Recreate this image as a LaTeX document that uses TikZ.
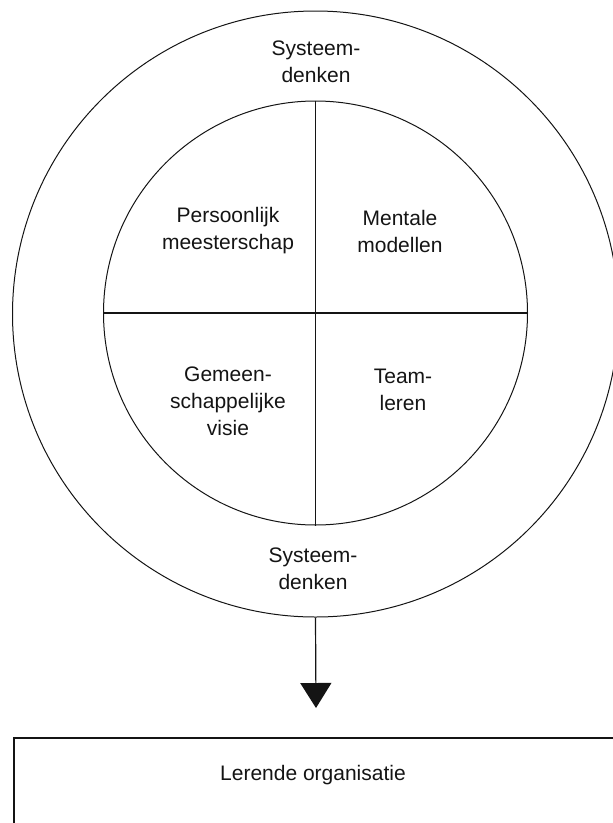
\documentclass[tikz,border=0pt]{standalone}
\usepackage{fontspec}
\setmainfont{Liberation Sans}
\usetikzlibrary{arrows.meta,positioning}
\definecolor{ink}{RGB}{20,20,20}
\tikzset{
  ring/.style={circle,draw=ink,line width=1pt,inner sep=0pt},
  lbl/.style={align=center,inner sep=0pt,font=\fontsize{21}{27}\selectfont,text=ink},
  quad/.style={draw=ink,line width=1.3pt},
  frame/.style={draw=ink,line width=1.6pt,anchor=north west,inner sep=0pt},
  arr/.style={-{Triangle[width=31pt,length=25pt]},line width=1.2pt,ink},
}

\begin{document}
\begin{tikzpicture}[x=1pt,y=-1pt]
  \useasboundingbox (0,0) rectangle (613,823);
  % circles
  \node[ring,minimum size=606pt] (outer) at (315.5,314) {};
  \node[ring,minimum size=424pt] (inner) at (315.5,313) {};
  \draw[quad] (inner.north) -- (inner.south);
  \draw[quad] (inner.west) -- (inner.east);

  % labels
  \node[lbl] (systop) at (316,62) {Systeem-\\denken};
  \node[lbl] (pm) at (228,231) {Persoonlijk\\meesterschap};
  \node[lbl] (mm) at (400,231) {Mentale\\modellen};
  \node[lbl] (gv) at (228,401) {Gemeen-\\schappelijke\\visie};
  \node[lbl] (tl) at (403,390) {Team-\\leren};
  \node[lbl] (sysbot) at (313,569) {Systeem-\\denken};

  % result
  \coordinate (tip) at (316,708);
  \node[frame,minimum width=604pt,minimum height=110pt] (orgbox) at (13,737) {};
  \node[lbl] (org) at (313,775) {Lerende organisatie};

  \draw[arr] (outer.south) -- (tip);
\end{tikzpicture}
\end{document}
